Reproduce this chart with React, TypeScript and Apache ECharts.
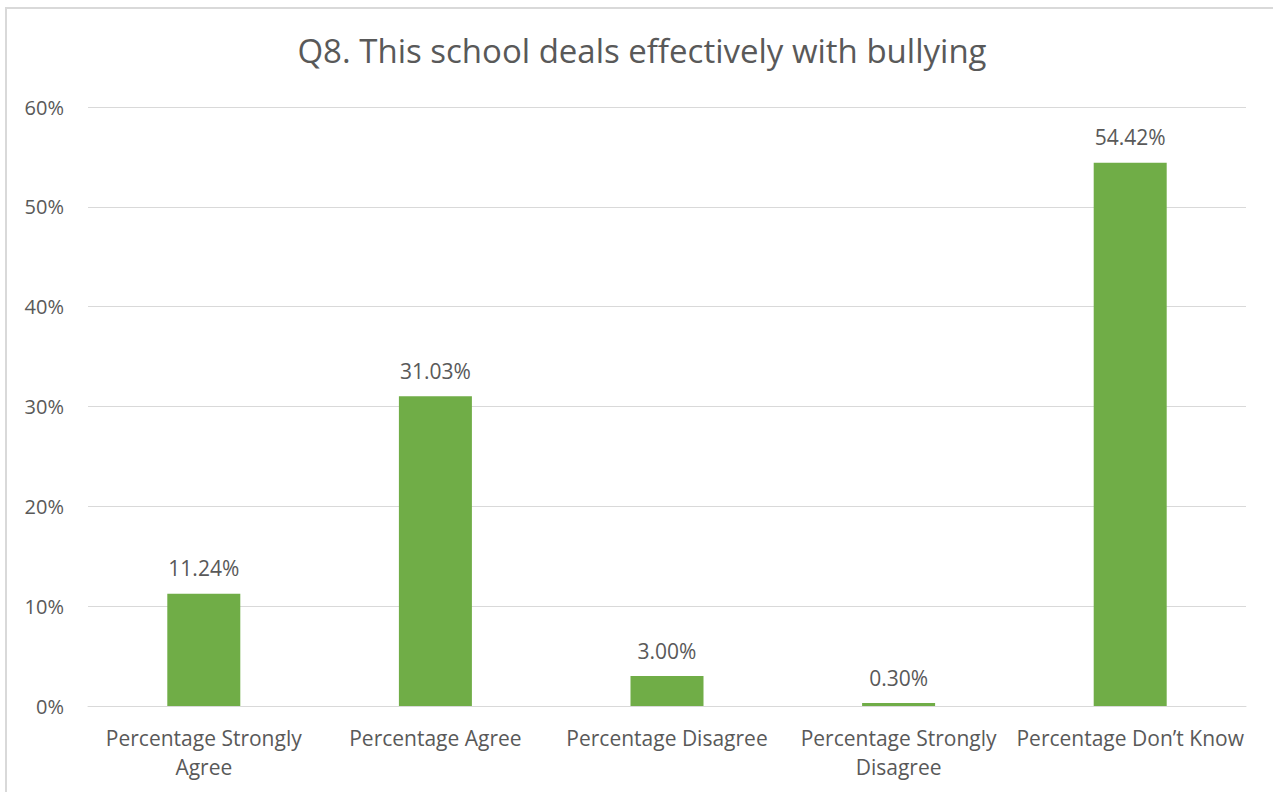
import React, { useEffect, useRef } from "react";
import * as echarts from "echarts";

const categories = [
  "Percentage Strongly\nAgree",
  "Percentage Agree",
  "Percentage Disagree",
  "Percentage Strongly\nDisagree",
  "Percentage Don\u2019t Know",
];
const values = [11.24, 31.03, 3.0, 0.3, 54.42];
const titleText = "Q8. This school deals effectively with bullying";

const FONT = "'Open Sans', 'Noto Sans', sans-serif";

export default function App() {
  const ref = useRef<HTMLDivElement>(null);
  useEffect(() => {
    const chart = echarts.init(ref.current!, null, { renderer: "svg" });
    chart.setOption({
      animation: false,
      backgroundColor: "#ffffff",
      title: {
        text: titleText,
        left: 637,
        top: 29,
        textAlign: "center",
        textStyle: { fontFamily: FONT, fontSize: 33, fontWeight: "normal", color: "#595959" },
      },
      graphic: [
        {
          type: "rect",
          shape: { x: 6, y: 8, width: 1300, height: 820 },
          style: { fill: "none", stroke: "#d9d9d9", lineWidth: 2 },
          silent: true,
        },
      ],
      grid: { left: 88, right: 27, top: 107, bottom: 86 },
      xAxis: {
        type: "category",
        data: categories,
        axisTick: { show: false },
        axisLine: { lineStyle: { color: "#d9d9d9", width: 1 } },
        axisLabel: {
          interval: 0,
          margin: 17,
          fontFamily: FONT,
          fontSize: 21,
          color: "#595959",
          lineHeight: 29,
        },
      },
      yAxis: {
        type: "value",
        min: 0,
        max: 60,
        interval: 10,
        axisLine: { show: false },
        axisTick: { show: false },
        splitLine: { lineStyle: { color: "#d9d9d9", width: 1 } },
        axisLabel: {
          margin: 24,
          fontFamily: FONT,
          fontSize: 20,
          color: "#595959",
          formatter: (v: number) => v + "%",
        },
      },
      series: [
        {
          type: "bar",
          data: values,
          barWidth: 73,
          itemStyle: { color: "#70AD47" },
          label: {
            show: true,
            position: "top",
            distance: 15,
            fontFamily: FONT,
            fontSize: 21,
            color: "#595959",
            formatter: (p: any) => p.value.toFixed(2) + "%",
          },
        },
      ],
    });
    return () => chart.dispose();
  }, []);
  return (
    <div
      ref={ref}
      style={{ position: "absolute", left: 0, top: 0, width: 1273, height: 792 }}
    />
  );
}
